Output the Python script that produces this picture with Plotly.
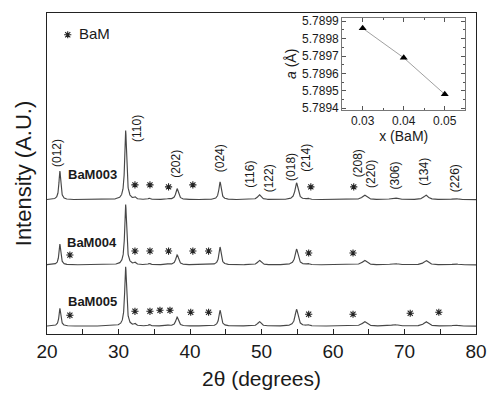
import numpy as np
import plotly.graph_objects as go

# ---- data ----
two_theta_range = [20, 80]
peak_pos = [21.8, 31.0, 32.3, 34.3, 37.0, 38.2, 40.3, 44.2, 49.7, 54.9, 56.5, 63.0, 64.4, 68.6, 73.0, 77.1]
peak_fwhm = [0.30, 0.32, 0.30, 0.30, 0.30, 0.45, 0.30, 0.38, 0.55, 0.50, 0.40, 0.40, 0.75, 0.95, 0.75, 0.85]
h_bam003 = [29, 70, 2.0, 1.5, 1.0, 11, 0.5, 18, 5.0, 17, 1.2, 0.5, 4.5, 2.0, 4.5, 1.2]
h_bam004 = [21, 61, 2.0, 1.5, 1.0, 10, 0.5, 18, 4.5, 16, 1.2, 0.5, 4.5, 1.5, 4.5, 1.0]
h_bam005 = [18, 60, 2.0, 1.5, 1.0, 9, 0.5, 16, 4.5, 17, 1.2, 0.5, 4.5, 1.5, 4.5, 1.0]
offsets = {"BaM003": 136, "BaM004": 70, "BaM005": 8}

star_x_003 = [32.3, 34.4, 37.0, 40.4, 56.9, 62.9]
star_h_003 = [15, 15, 13, 15, 13, 13]
star_x_004 = [23.2, 32.3, 34.4, 37.0, 40.4, 42.6, 56.6, 62.8]
star_h_004 = [10, 14, 14, 14, 14, 14, 12, 12]
star_x_005 = [23.2, 32.3, 34.4, 35.8, 37.2, 40.1, 42.6, 56.6, 62.8, 70.8, 74.8]
star_h_005 = [11, 15, 15, 16, 16, 14, 14, 12, 12, 13, 14]

hkl_labels = ["(012)", "(110)", "(202)", "(024)", "(116)", "(122)", "(018)", "(214)",
              "(208)", "(220)", "(306)", "(134)", "(226)"]
hkl_x = [21.5, 32.5, 38.0, 44.2, 48.35, 51.1, 54.1, 56.3, 63.5, 65.3, 68.6, 72.7, 77.1]
hkl_y = [183, 208, 172, 178, 162, 158, 169, 178, 173, 162, 161, 164, 158]

sample_names = ["BaM003", "BaM004", "BaM005"]
sample_label_x = [26.3, 26.3, 26.3]
sample_label_y = [161, 93, 33]

legend_label = "BaM"

# inset data
x_bam = [0.03, 0.04, 0.05]
a_lattice = [5.78986, 5.78969, 5.78948]

# ---- build profiles ----
tt = np.arange(two_theta_range[0], two_theta_range[1] + 0.001, 0.02)

def profile(heights):
    y = np.zeros_like(tt)
    for c, w, h in zip(peak_pos, peak_fwhm, heights):
        g = (w / 2) ** 2
        y += h * g / ((tt - c) ** 2 + g)
    return y

LINE = "#474747"
TXT = "#1a1a1a"
FONT = "Liberation Sans, Arial, sans-serif"
STAR = dict(symbol="asterisk-open", size=6, color="#222222",
            line=dict(color="#222222", width=1.1))

fig = go.Figure()
for name, hs in zip(sample_names, [h_bam003, h_bam004, h_bam005]):
    fig.add_trace(go.Scatter(x=tt, y=profile(hs) + offsets[name], mode="lines",
                             line=dict(color=LINE, width=1.15), showlegend=False,
                             hoverinfo="skip"))

for name, sx, sh in [("BaM003", star_x_003, star_h_003), ("BaM004", star_x_004, star_h_004),
                     ("BaM005", star_x_005, star_h_005)]:
    fig.add_trace(go.Scatter(x=sx, y=[offsets[name] + h for h in sh], mode="markers",
                             marker=STAR, showlegend=False, hoverinfo="skip"))

# legend star
fig.add_trace(go.Scatter(x=[22.9], y=[303], mode="markers", marker=STAR,
                         showlegend=False, hoverinfo="skip"))
fig.add_annotation(x=24.2, y=304, text=legend_label, showarrow=False, xanchor="left",
                   font=dict(family=FONT, size=15, color=TXT))

# inset
fig.add_trace(go.Scatter(x=x_bam, y=a_lattice, mode="lines+markers", xaxis="x2", yaxis="y2",
                         line=dict(color="#a0a0a0", width=1),
                         marker=dict(symbol="triangle-up", size=7, color="black"),
                         showlegend=False))

for t, x, y in zip(hkl_labels, hkl_x, hkl_y):
    fig.add_annotation(x=x, y=y, text=t, textangle=-90, showarrow=False,
                       font=dict(family=FONT, size=12, color=TXT))

for t, x, y in zip(sample_names, sample_label_x, sample_label_y):
    fig.add_annotation(x=x, y=y, text="<b>%s</b>" % t, showarrow=False,
                       font=dict(family=FONT, size=13, color=TXT))

fig.update_layout(
    width=497, height=397,
    margin=dict(l=47, r=14, t=10, b=62),
    paper_bgcolor="white", plot_bgcolor="white",
    font=dict(family=FONT, color=TXT),
    xaxis=dict(range=two_theta_range, dtick=10, ticks="inside", ticklen=5, tickcolor="#222",
               showline=True, linecolor="#222", linewidth=1.2, mirror=True, showgrid=False,
               zeroline=False, tickfont=dict(size=19),
               minor=dict(dtick=5, ticks="inside", ticklen=5, tickcolor="#222"),
               title=dict(text="2θ (degrees)", font=dict(size=21), standoff=10)),
    yaxis=dict(range=[0, 325], showticklabels=False, ticks="", showline=True, linecolor="#222",
               linewidth=1.2, mirror=True, showgrid=False, zeroline=False,
               title=dict(text="Intensity (A.U.)", font=dict(size=22), standoff=8)),
    xaxis2=dict(domain=[0.688, 0.975], anchor="y2", range=[0.025, 0.055],
                tickvals=[0.03, 0.04, 0.05], ticktext=["0.03", "0.04", "0.05"],
                ticks="inside", ticklen=4, tickcolor="#555", showline=True, linecolor="#777",
                linewidth=1, mirror="ticks", showgrid=False, zeroline=False,
                tickfont=dict(size=12),
                minor=dict(dtick=0.005, ticks="inside", ticklen=2, tickcolor="#555"),
                title=dict(text="x (BaM)", font=dict(size=14), standoff=2)),
    yaxis2=dict(domain=[0.698, 0.985], anchor="x2", range=[5.78939, 5.78992],
                dtick=0.0001, tick0=5.7894, tickformat=".4f", ticks="inside", ticklen=4,
                tickcolor="#555", showline=True, linecolor="#777", linewidth=1, mirror="ticks",
                showgrid=False, zeroline=False, tickfont=dict(size=12),
                minor=dict(dtick=0.00005, ticks="inside", ticklen=2, tickcolor="#555"),
                title=dict(text="<i>a</i> (Å)", font=dict(size=14), standoff=2)),
)

fig.write_html("out.html")
